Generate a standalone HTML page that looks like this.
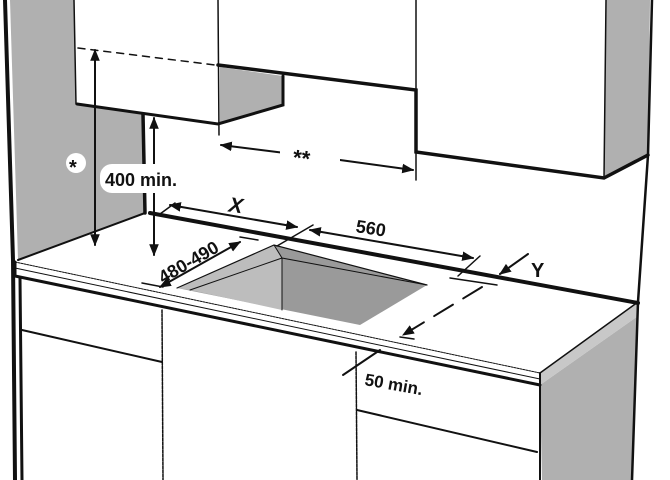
<!DOCTYPE html>
<html><head><style>
html,body{margin:0;padding:0;background:#fff;}
svg{display:block;}
text{font-family:"Liberation Sans",sans-serif;font-weight:bold;fill:#111;}
</style></head><body>
<svg width="670" height="480" viewBox="0 0 670 480" xmlns="http://www.w3.org/2000/svg">
<defs>
<marker id="a" viewBox="0 0 10 10" refX="9" refY="5" markerWidth="6" markerHeight="6" orient="auto-start-reverse"><path d="M0,1 L10,5 L0,9 z" fill="#111"/></marker>
</defs>
<g fill="#b0b0b0" stroke="none">
<polygon points="10,0 74,0 76,104 143,114 145,213 18,260"/>
<polygon points="220,67 283,76 283,105 220,124"/>
<polygon points="606,0 650,0 648,155 604,178"/>
<polygon points="274,245 427,285 360,325 177,288" fill="#9a9a9a"/>
<polygon points="274,245 282,258 282,310 190,290 177,288" fill="#bdbdbd"/>
<polygon points="540,385 638,316 632,480 542,480"/>
<polygon points="540,373 638,302 638,316 540,385" fill="#c8c8c8"/>
</g>
<g stroke="#111" fill="none" stroke-linecap="round">
<path d="M5,0 L13,260 L15,480" stroke-width="4"/>
<path d="M74,0 L76,104" stroke-width="1.5"/>
<path d="M218,0 L219,135" stroke-width="1.5"/>
<path d="M416,0 L416,90" stroke-width="1.5"/>
<path d="M606,0 L604,178" stroke-width="1.5"/>
<path d="M652,0 L648,155 L638,302" stroke-width="2.5"/>
<path d="M77,104 L218,124 L283,105 L283,76" stroke-width="3"/>
<path d="M218,65 L416,90 L416,152 L604,178 L648,155" stroke-width="3.5"/>
<path d="M78,48 L215,65" stroke-width="1.5" stroke-dasharray="7,6"/>
<path d="M145,213 L18,260" stroke-width="2"/>
<path d="M143,114 L145,213" stroke-width="3.5"/>
<path d="M150,213 L638,303" stroke-width="4"/>
<path d="M15,262 L540,373" stroke-width="1" stroke-dasharray="2,1"/>
<path d="M15,262 L15,276 L540,385" stroke-width="3"/>
<path d="M15,268 L540,379" stroke-width="1"/>
<path d="M540,373 L638,302" stroke-width="1.5"/>
<path d="M540,373 L540,480" stroke-width="2"/>
<path d="M638,302 L632,480" stroke-width="2.5"/>
<path d="M20,278 L22,480" stroke-width="3"/>
<path d="M162,310 L163,480" stroke-width="1.5" stroke-dasharray="3,1"/>
<path d="M356,352 L357,480" stroke-width="1.5" stroke-dasharray="3,1"/>
<path d="M22,330 L162,362" stroke-width="2"/>
<path d="M357,410 L537,452" stroke-width="2"/>
<path d="M177,288 L274,245 L427,285" stroke-width="1.2"/>
<path d="M282,258 L282,310 M274,245 L282,258 L427,285 M190,290 L282,258" stroke-width="1"/>
<path d="M95,245 L95,50" stroke-width="2" marker-start="url(#a)" marker-end="url(#a)"/>
<path d="M154,255 L154,118" stroke-width="2" marker-start="url(#a)" marker-end="url(#a)"/>
<path d="M221,145 L285,153" stroke-width="2" marker-start="url(#a)"/>
<path d="M340,160 L413,170" stroke-width="2" marker-end="url(#a)"/>
<path d="M416,152 L416,180" stroke-width="1.5"/>
<path d="M170,205 L297,227" stroke-width="2" marker-start="url(#a)" marker-end="url(#a)"/>
<path d="M313,225 L277,246" stroke-width="1.5"/>
<path d="M160,214 L175,203" stroke-width="1.5"/>
<path d="M310,230 L473,258" stroke-width="2" marker-start="url(#a)" marker-end="url(#a)"/>
<path d="M480,256 L458,276" stroke-width="1.5"/>
<path d="M450,278 L497,285" stroke-width="1.5"/>
<path d="M528,254 L500,274" stroke-width="2" marker-end="url(#a)"/>
<path d="M482,287 L403,335" stroke-width="2" stroke-dasharray="22,12" marker-end="url(#a)"/>
<path d="M400,337 L414,339" stroke-width="1.5"/>
<path d="M160,287 L240,242" stroke-width="2" marker-start="url(#a)" marker-end="url(#a)"/>
<path d="M240,237 L258,240" stroke-width="1.5"/>
<path d="M142,283 L163,287" stroke-width="1.5"/>
<path d="M343,375 L380,350" stroke-width="2"/>
</g>
<circle cx="76" cy="163" r="10" fill="#fff"/>
<text x="69" y="174" font-size="20" font-weight="normal">*</text>
<rect x="100" y="164" width="102" height="29" rx="12" fill="#fff"/>
<text x="105" y="186" font-size="18">400 min.</text>
<rect x="280" y="143" width="60" height="22" fill="#fff"/>
<text x="293" y="166" font-size="22" font-weight="normal" transform="rotate(7 305 157)">**</text>
<text x="229" y="213" font-size="21" font-style="italic" transform="rotate(8 240 205)">X</text>
<text x="356" y="235" font-size="18" transform="rotate(9 375 228)">560</text>
<text x="531" y="277" font-size="20">Y</text>
<text x="0" y="0" font-size="18" transform="translate(163,284) rotate(-30)">480-490</text>
<text x="0" y="0" font-size="17" transform="translate(364,385) rotate(10)">50 min.</text>
</svg>
</body></html>
